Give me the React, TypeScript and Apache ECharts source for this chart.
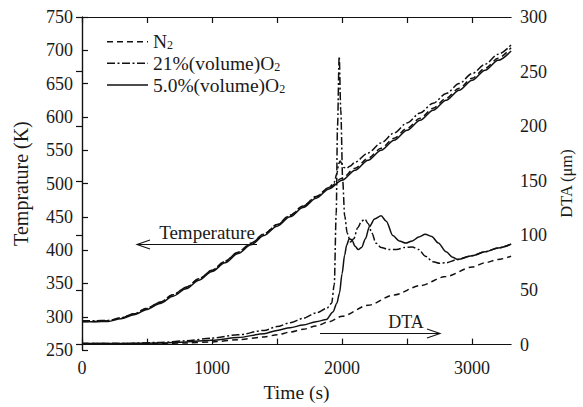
import React, { useEffect, useRef } from "react";
import * as echarts from "echarts";

// ---- data ----
const tempTime = [0, 100, 200, 300, 400, 500, 600, 700, 800, 900, 1000, 1100, 1200, 1300, 1400, 1500, 1600, 1700, 1800, 1900, 2000, 2100, 2200, 2300, 2400, 2500, 2600, 2700, 2800, 2900, 3000, 3100, 3200, 3300];
const tempN2 = [293, 293, 294, 298, 304.5, 313, 322, 333, 344.5, 357, 370, 383.5, 397, 410.5, 424.5, 438.5, 452.5, 466.5, 480.5, 494, 508, 523, 538, 553, 568, 583, 598, 613, 628, 643, 658, 673, 688, 704];
const temp5 = [292.5, 292.5, 293, 297, 303, 311, 320, 331, 342, 355, 368, 381, 395, 408, 422, 436, 450, 464, 478, 492, 505, 520, 535, 550, 565, 580, 595, 610, 625, 640, 655, 670, 685, 699];
const temp21Time = [0, 100, 200, 300, 400, 500, 600, 700, 800, 900, 1000, 1100, 1200, 1300, 1400, 1500, 1600, 1700, 1800, 1900, 1940, 1960, 1975, 1985, 2000, 2015, 2035, 2060, 2100, 2200, 2300, 2400, 2500, 2600, 2700, 2800, 2900, 3000, 3100, 3200, 3300];
const temp21 = [294, 294, 294.5, 298.5, 304.5, 312.5, 322, 333, 344, 357, 370, 383, 397, 410, 424, 438, 452, 466, 480, 494, 502, 515, 530, 534, 529, 524, 523, 526, 532, 546, 561, 576, 591, 606, 620.5, 635, 650, 665, 679, 694, 708];

const dtaTimeN2 = [0, 400, 600, 800, 1000, 1200, 1400, 1500, 1600, 1700, 1800, 1900, 2000, 2200, 2400, 2600, 2800, 3000, 3100, 3200, 3300];
const dtaN2 = [1, 1, 1, 1.5, 2.5, 4.5, 7, 9, 11.5, 14, 17, 21, 26, 36, 45.5, 54, 62.5, 71, 75, 78, 81];
const dtaTime21 = [0, 300, 600, 800, 1000, 1200, 1400, 1500, 1600, 1700, 1800, 1880, 1920, 1940, 1955, 1965, 1978, 1990, 2005, 2020, 2040, 2065, 2090, 2120, 2150, 2175, 2200, 2230, 2260, 2300, 2360, 2420, 2480, 2540, 2590, 2640, 2700, 2750, 2800, 2890, 3000, 3100, 3200, 3300];
const dta21 = [1, 1, 2, 3.5, 6, 9, 13, 16.5, 20, 24, 29, 33, 38, 55, 120, 200, 264, 215, 150, 118, 102, 94, 97, 107, 113, 115, 111, 102, 93, 89, 87, 87, 89, 89.5, 87, 81, 76, 74.5, 75, 78, 81.5, 85, 88.5, 92];
const dtaTime5 = [0, 300, 600, 800, 1000, 1200, 1400, 1500, 1600, 1700, 1800, 1880, 1930, 1960, 1980, 2000, 2020, 2035, 2055, 2075, 2100, 2125, 2150, 2180, 2210, 2250, 2300, 2340, 2390, 2440, 2490, 2540, 2590, 2640, 2690, 2740, 2800, 2850, 2890, 3000, 3100, 3200, 3300];
const dta5 = [1, 1, 1.5, 2.5, 4, 6.5, 10, 13, 15.5, 18, 21, 23, 30, 38, 47, 65, 82, 91, 97, 96, 90, 87, 89, 97, 108, 115, 118, 113, 100, 95, 93, 95, 98.5, 101, 99, 93, 85, 80, 78, 81.5, 85, 88.5, 92];

const xTickValues = [0, 500, 1000, 1500, 2000, 2500, 3000];
const xLabelValues = [0, 1000, 2000, 3000];
const dtaTickValues = [0, 50, 100, 150, 200, 250, 300];
const legendNames = ["N2", "21%(volume)O2", "5.0%(volume)O2"];

const FONT = "Liberation Serif";
const INK = "#1a1a1a";
const DASH = [6, 4];
const DASHDOT = [8, 2.5, 2, 2.5];

function pairs(t: number[], v: number[]) {
  return t.map((x, i) => [x, v[i]]);
}

export default function App() {
  const ref = useRef<HTMLDivElement>(null);
  useEffect(() => {
    if (!ref.current) return;
    const chart = echarts.init(ref.current, null, { renderer: "svg" });
    const lineBase = (name: string, data: number[][], yIdx: number, type: any, z: number) => ({
      type: "line",
      name,
      xAxisIndex: 0,
      yAxisIndex: yIdx,
      data,
      symbol: "none",
      showSymbol: false,
      smooth: 0.3,
      smoothMonotone: "x",
      z,
      lineStyle: { color: "#111", width: 1.5, type },
    });
    const tickStyle = { fontFamily: FONT, fontSize: 18, color: INK };
    const nameStyle = (size: number) => ({ fontFamily: FONT, fontSize: size, color: INK });
    const plain = (v: number) => String(v);
    const legendRow = (y: number, dash: any, text: string, sub: string) => [
      {
        type: "line",
        shape: { x1: 107, y1: y, x2: 148, y2: y },
        style: { stroke: "#111", lineWidth: 1.5, lineDash: dash },
      },
      {
        type: "text",
        x: 153,
        y: y,
        style: {
          text: `{m|${text}}{s|${sub}}`,
          verticalAlign: "middle",
          align: "left",
          fill: INK,
          rich: {
            m: { fontFamily: FONT, fontSize: 19.5, fill: INK, lineHeight: 19 },
            s: { fontFamily: FONT, fontSize: 12, fill: INK, verticalAlign: "bottom", lineHeight: 19 },
          },
        },
      },
    ];
    chart.setOption({
      animation: false,
      backgroundColor: "#fff",
      grid: { left: 82, right: 67, top: 17, bottom: 52 },
      xAxis: [
        {
          type: "value",
          min: 0,
          max: 3300,
          position: "bottom",
          name: "Time (s)",
          nameLocation: "middle",
          nameGap: 29,
          nameTextStyle: nameStyle(19.5),
          axisLine: { show: true, lineStyle: { color: "#111", width: 1.2 } },
          axisTick: { show: true, inside: true, length: 6, customValues: xTickValues, lineStyle: { color: "#111", width: 1.2 } },
          axisLabel: { ...tickStyle, margin: 9, customValues: xLabelValues, formatter: plain },
          splitLine: { show: false },
        },
        {
          type: "value",
          min: 0,
          max: 3300,
          position: "top",
          axisLine: { show: true, lineStyle: { color: "#111", width: 1.2 } },
          axisTick: { show: true, inside: true, length: 6, customValues: xTickValues, lineStyle: { color: "#111", width: 1.2 } },
          axisLabel: { show: false },
          splitLine: { show: false },
        },
      ],
      yAxis: [
        {
          type: "value",
          min: 250,
          max: 750,
          interval: 50,
          position: "left",
          name: "Temprature (K)",
          nameLocation: "middle",
          nameRotate: 90,
          nameGap: 51,
          nameTextStyle: nameStyle(20),
          axisLine: { show: true, lineStyle: { color: "#111", width: 1.2 } },
          axisTick: { show: true, inside: true, length: 6, lineStyle: { color: "#111", width: 1.2 } },
          axisLabel: { ...tickStyle, margin: 9, formatter: plain },
          splitLine: { show: false },
        },
        {
          type: "value",
          min: -5,
          max: 300,
          position: "right",
          name: "DTA (μm)",
          nameLocation: "middle",
          nameRotate: 90,
          nameGap: 46,
          nameTextStyle: nameStyle(16.5),
          axisLine: { show: true, lineStyle: { color: "#111", width: 1.2 } },
          axisTick: { show: true, inside: true, length: 6, customValues: dtaTickValues, lineStyle: { color: "#111", width: 1.2 } },
          axisLabel: { ...tickStyle, margin: 9, customValues: dtaTickValues, formatter: plain },
          splitLine: { show: false },
        },
      ],
      series: [
        lineBase(legendNames[0], pairs(tempTime, tempN2), 0, DASH, 2),
        lineBase(legendNames[1], pairs(temp21Time, temp21), 0, DASHDOT, 3),
        lineBase(legendNames[2], pairs(tempTime, temp5), 0, "solid", 4),
        lineBase(legendNames[0], pairs(dtaTimeN2, dtaN2), 1, DASH, 2),
        lineBase(legendNames[1], pairs(dtaTime21, dta21), 1, DASHDOT, 3),
        lineBase(legendNames[2], pairs(dtaTime5, dta5), 1, "solid", 4),
      ],
      graphic: [
        ...legendRow(41.7, [6, 4], "N", "2"),
        ...legendRow(63.3, [8, 2.5, 2, 2.5], "21%(volume)O", "2"),
        ...legendRow(85, null, "5.0%(volume)O", "2"),
        {
          type: "text",
          x: 207,
          y: 232,
          style: { text: "Temperature", fontFamily: FONT, fontSize: 19, fill: INK, align: "center", verticalAlign: "middle" },
        },
        { type: "line", shape: { x1: 137, y1: 244.5, x2: 257, y2: 244.5 }, style: { stroke: "#111", lineWidth: 1.1 } },
        { type: "polyline", shape: { points: [[150, 240], [137, 244.5], [150, 249]] }, style: { stroke: "#111", lineWidth: 1.1, fill: null } },
        {
          type: "text",
          x: 406,
          y: 321.5,
          style: { text: "DTA", fontFamily: FONT, fontSize: 18, fill: INK, align: "center", verticalAlign: "middle" },
        },
        { type: "line", shape: { x1: 320, y1: 333.5, x2: 440, y2: 333.5 }, style: { stroke: "#111", lineWidth: 1.1 } },
        { type: "polyline", shape: { points: [[427, 329], [440, 333.5], [427, 338]] }, style: { stroke: "#111", lineWidth: 1.1, fill: null } },
      ],
    });
    return () => chart.dispose();
  }, []);
  return (
    <div
      ref={ref}
      style={{ position: "fixed", left: 0, top: 0, width: 583, height: 407, background: "#fff" }}
    />
  );
}
